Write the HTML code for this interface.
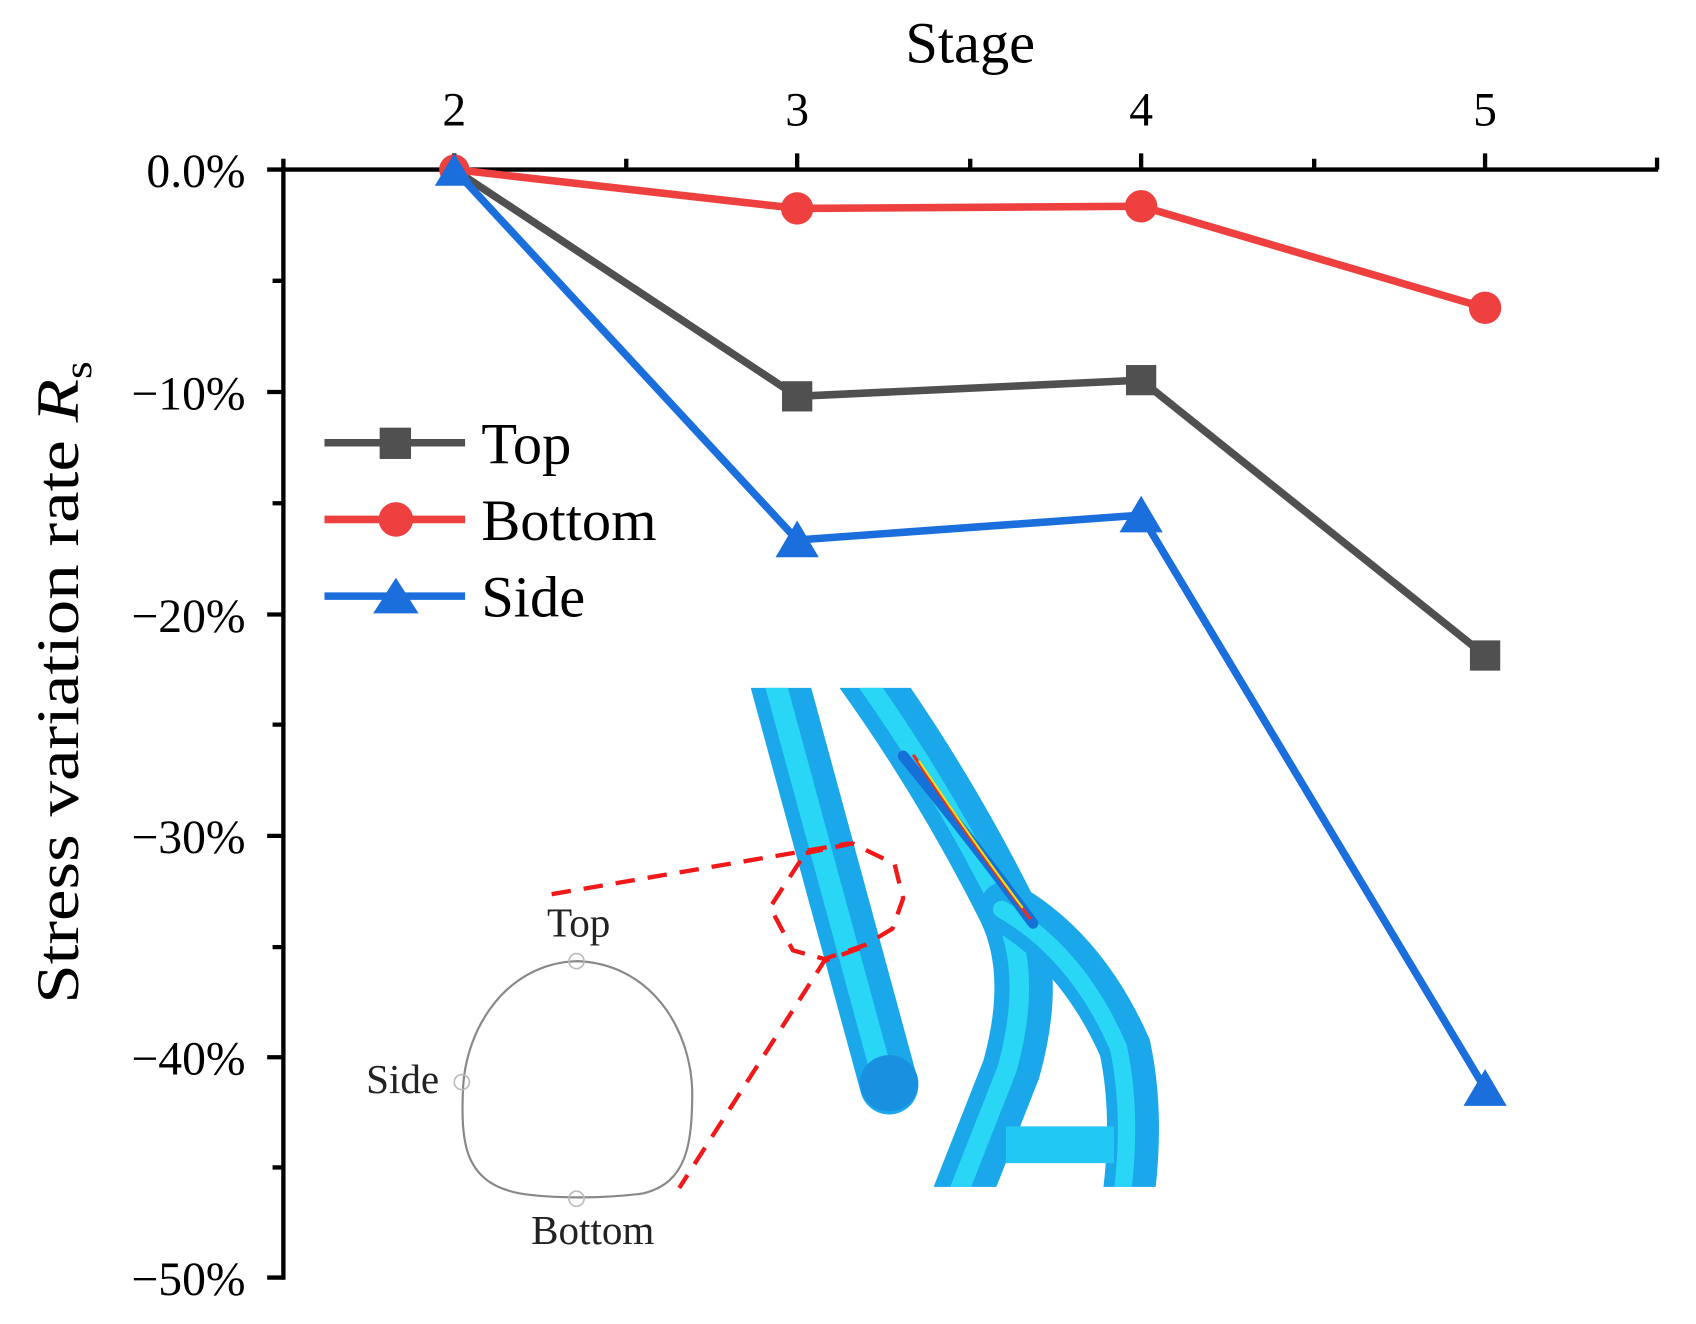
<!DOCTYPE html>
<html><head><meta charset="utf-8"><style>
html,body{margin:0;padding:0;background:#fff;}
svg{display:block;}
text{font-family:"Liberation Serif",serif;}
</style></head><body>
<svg width="1696" height="1324" viewBox="0 0 1568 1226" preserveAspectRatio="none" xmlns="http://www.w3.org/2000/svg">
<defs>
<clipPath id="ic"><rect x="670" y="637" width="410" height="462"/></clipPath>
</defs>
<!-- inset tubes -->
<g clip-path="url(#ic)" fill="none" stroke-linecap="round">
<path d="M712 600 L822 1005" stroke="#1aa8ea" stroke-width="54"/>
<path d="M708 600 L818 1005" stroke="#2ad6f6" stroke-width="20"/>
<path d="M790 610 Q870 720 930 840 Q960 900 935 990 L880 1130" stroke="#1aa8ea" stroke-width="54"/>
<path d="M786 610 Q866 720 926 840 Q956 900 931 990 L876 1130" stroke="#2ad6f6" stroke-width="18"/>
<path d="M930 840 Q1000 880 1040 970 Q1055 1040 1040 1130" stroke="#1aa8ea" stroke-width="48"/>
<path d="M926 842 Q996 882 1034 970 Q1049 1040 1034 1130" stroke="#2ad6f6" stroke-width="16"/>
<path d="M930 1060 L1030 1060" stroke="#20c8f3" stroke-width="34" stroke-linecap="butt"/>
<path d="M835 700 Q900 780 955 855" stroke="#1570d8" stroke-width="10"/>
<path d="M845 700 Q905 790 952 850" stroke="#e83020" stroke-width="3"/>
<path d="M850 705 Q900 780 945 840" stroke="#e8e020" stroke-width="2"/>
<ellipse cx="822" cy="1003" rx="27" ry="26" fill="#1a90e0" stroke="none"/>
</g>
<!-- tunnel outline -->
<path d="M533 890 C470 892 430 950 428 1010 C426 1060 430 1095 480 1105 C510 1110 560 1110 595 1105 C635 1095 640 1060 640 1010 C638 950 600 892 533 890 Z" fill="none" stroke="#888" stroke-width="2"/>
<circle cx="533" cy="890" r="7" fill="none" stroke="#bbb" stroke-width="1.5"/>
<circle cx="427" cy="1002" r="7" fill="none" stroke="#bbb" stroke-width="1.5"/>
<circle cx="533" cy="1110" r="7" fill="none" stroke="#bbb" stroke-width="1.5"/>
<text x="535" y="867" font-size="38" text-anchor="middle" fill="#222">Top</text>
<text x="406" y="1012" font-size="38" text-anchor="end" fill="#222">Side</text>
<text x="548" y="1152" font-size="38" text-anchor="middle" fill="#222">Bottom</text>
<!-- dashed red -->
<g fill="none" stroke="#f01818" stroke-width="4" stroke-dasharray="18,12">
<path d="M510 828 L785 781"/>
<path d="M740 797 L712 840 L733 880 L762 888 L800 875 L825 860 L835 832 L827 800 L788 781 L745 790"/>
<path d="M795 878 L762 890 L628 1100"/>
</g>
<!-- axes -->
<g stroke="#000" stroke-width="4" fill="none">
<path d="M262 157 L1533 157"/>
<path d="M262 155 L262 1185"/>
<path d="M420 157 V142 M737 157 V142 M1055 157 V142 M1373 157 V142"/>
<path d="M579 157 V147 M897 157 V147 M1215 157 V147 M1532 157 V146 M262 157 V147"/>
<path d="M262 363 H247 M262 569 H247 M262 774 H247 M262 979 H247 M262 1183 H247 M262 157 H247"/>
<path d="M262 260 H252 M262 466 H252 M262 671 H252 M262 877 H252 M262 1081 H252"/>
</g>
<g font-size="44" fill="#000">
<text x="420" y="116" text-anchor="middle">2</text>
<text x="737" y="116" text-anchor="middle">3</text>
<text x="1055" y="116" text-anchor="middle">4</text>
<text x="1373" y="116" text-anchor="middle">5</text>
<text x="227" y="173" text-anchor="end">0.0%</text>
<text x="227" y="379" text-anchor="end">−10%</text>
<text x="227" y="585" text-anchor="end">−20%</text>
<text x="227" y="790" text-anchor="end">−30%</text>
<text x="227" y="995" text-anchor="end">−40%</text>
<text x="227" y="1199" text-anchor="end">−50%</text>
</g>
<text x="897" y="58" font-size="54" text-anchor="middle">Stage</text>
<text transform="translate(72,632) rotate(-90)" font-size="56" text-anchor="middle" textLength="595" lengthAdjust="spacingAndGlyphs">Stress variation rate <tspan font-style="italic">R</tspan><tspan font-size="36" dy="12">s</tspan></text>
<!-- series -->
<g fill="none" stroke-width="7" stroke-linejoin="round">
<polyline points="420,157 737,193 1055,191 1373,285" stroke="#ef4040"/>
<polyline points="420,157 737,367 1055,352 1373,607" stroke="#505050"/>
<polyline points="420,157 737,500 1055,477 1373,1008" stroke="#1a6fdc"/>
</g>
<g fill="#ef4040">
<circle cx="420" cy="157" r="14"/><circle cx="737" cy="193" r="15"/><circle cx="1055" cy="191" r="15"/><circle cx="1373" cy="285" r="15"/>
</g>
<g fill="#505050">
<rect x="723" y="353" width="28" height="28"/><rect x="1041" y="338" width="28" height="28"/><rect x="1359" y="593" width="28" height="28"/>
</g>
<g fill="#1a6fdc">
<polygon points="420,142 402,172 438,172"/>
<polygon points="737,482 717,516 757,516"/>
<polygon points="1055,459 1035,493 1075,493"/>
<polygon points="1373,990 1353,1024 1393,1024"/>
</g>
<!-- legend -->
<g stroke-width="7">
<line x1="300" y1="410" x2="430" y2="410" stroke="#505050"/>
<line x1="300" y1="481" x2="430" y2="481" stroke="#ef4040"/>
<line x1="300" y1="552" x2="430" y2="552" stroke="#1a6fdc"/>
</g>
<rect x="351" y="396" width="29" height="29" fill="#505050"/>
<circle cx="366" cy="481" r="16" fill="#ef4040"/>
<polygon points="366,535 345,568 387,568" fill="#1a6fdc"/>
<g font-size="54">
<text x="445" y="429">Top</text>
<text x="445" y="500">Bottom</text>
<text x="445" y="571">Side</text>
</g>
</svg>
</body></html>
